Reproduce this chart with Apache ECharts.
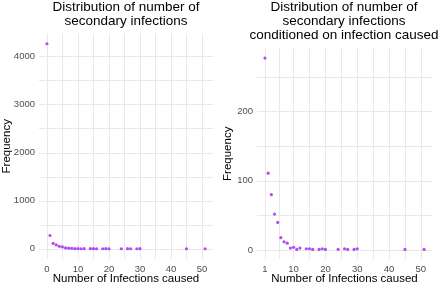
<!DOCTYPE html>
<html>
<head>
<meta charset="utf-8">
<script src="https://cdn.jsdelivr.net/npm/echarts@6/dist/echarts.min.js"></script>
<style>
  html, body { margin: 0; padding: 0; background: #fff; }
  #main { width: 440px; height: 285px; }
</style>
</head>
<body>
<div id="main"></div>
<script>
// number of secondary infections caused, and how often it happened
const infections = [0, 1, 2, 3, 4, 5, 6, 7, 8, 9, 10, 11, 12, 14, 15, 16, 18, 19, 20, 24, 26, 27, 29, 30, 45, 51];
const frequency = [4270, 277, 111, 80, 52, 40, 18, 12, 10, 3, 4, 1, 3, 2, 2, 1, 1, 2, 1, 1, 2, 1, 1, 2, 1, 1];

const leftXTicks = [0, 10, 20, 30, 40, 50];
const leftYTicks = [0, 1000, 2000, 3000, 4000];
const rightXTicks = [1, 10, 20, 30, 40, 50];
const rightYTicks = [0, 100, 200];

// gridlines incl. the minor ones half way between breaks
const leftXGrid = [0, 5, 10, 15, 20, 25, 30, 35, 40, 45, 50];
const leftYGrid = [0, 500, 1000, 1500, 2000, 2500, 3000, 3500, 4000];
const rightXGrid = [1, 5.5, 10, 15, 20, 25, 30, 35, 40, 45, 50];
const rightYGrid = [0, 50, 100, 150, 200, 250];

const titleLeft = 'Distribution of number of\nsecondary infections';
const titleRight = 'Distribution of number of\nsecondary infections\nconditioned on infection caused';
const xName = 'Number of Infections caused';
const yName = 'Frequency';

// only the ones who infected at least one person
const condX = infections.slice(1);
const condY = frequency.slice(1);

function padded(arr) {
  const lo = Math.min.apply(null, arr);
  const hi = Math.max.apply(null, arr);
  const p = (hi - lo) * 0.05;
  return [lo - p, hi + p];
}

const FONT = '"Liberation Sans", Arial, sans-serif';
const gridColor = '#e8e8e8';
const tickColor = '#4d4d4d';

function xAxisOf(idx, range, ticks, lines) {
  return {
    type: 'value',
    gridIndex: idx,
    min: range[0],
    max: range[1],
    name: xName,
    nameLocation: 'middle',
    nameGap: 20,
    nameMoveOverlap: false,
    nameTextStyle: {color: '#000', fontSize: 11.5, fontFamily: FONT, verticalAlign: 'middle'},
    axisLine: {show: false},
    axisTick: {show: false, customValues: lines},
    axisLabel: {customValues: ticks, color: tickColor, fontSize: 9.5, fontFamily: FONT, margin: 5},
    splitLine: {show: true, lineStyle: {color: gridColor, width: 1}}
  };
}

function yAxisOf(idx, range, ticks, lines, gap) {
  return {
    type: 'value',
    gridIndex: idx,
    min: range[0],
    max: range[1],
    name: yName,
    nameLocation: 'middle',
    nameRotate: 90,
    nameGap: gap,
    nameMoveOverlap: false,
    nameTextStyle: {color: '#000', fontSize: 11.5, fontFamily: FONT, verticalAlign: 'middle'},
    axisLine: {show: false},
    axisTick: {show: false, customValues: lines},
    axisLabel: {
      customValues: ticks,
      color: tickColor,
      fontSize: 9.5,
      fontFamily: FONT,
      margin: 4,
      formatter: (v) => String(v)
    },
    splitLine: {show: true, lineStyle: {color: gridColor, width: 1}}
  };
}

const chart = echarts.init(document.getElementById('main'), null, {renderer: 'canvas'});

const titleStyle = {color: '#000', fontSize: 13.5, fontWeight: 'normal', fontFamily: FONT, lineHeight: 14};

const option = {
  animation: false,
  backgroundColor: '#fff',
  title: [
    {text: titleLeft, left: 126, top: 0, padding: 0, textAlign: 'center', textStyle: titleStyle},
    {text: titleRight, left: 344, top: 0, padding: 0, textAlign: 'center', textStyle: titleStyle}
  ],
  grid: [
    {left: 39, width: 174, top: 33.5, height: 225.5, outerBoundsMode: 'none'},
    {left: 257, width: 175, top: 48.5, height: 210.5, outerBoundsMode: 'none'}
  ],
  xAxis: [
    xAxisOf(0, padded(infections), leftXTicks, leftXGrid),
    xAxisOf(1, padded(condX), rightXTicks, rightXGrid)
  ],
  yAxis: [
    yAxisOf(0, padded(frequency), leftYTicks, leftYGrid, 32),
    yAxisOf(1, padded(condY), rightYTicks, rightYGrid, 29)
  ],
  series: [
    {
      type: 'scatter',
      xAxisIndex: 0,
      yAxisIndex: 0,
      symbolSize: 3.2,
      itemStyle: {color: '#a020f0'},
      data: infections.map((x, i) => [x, frequency[i]])
    },
    {
      type: 'scatter',
      xAxisIndex: 1,
      yAxisIndex: 1,
      symbolSize: 3.2,
      itemStyle: {color: '#a020f0'},
      data: condX.map((x, i) => [x, condY[i]])
    }
  ]
};

chart.setOption(option);
</script>
</body>
</html>
